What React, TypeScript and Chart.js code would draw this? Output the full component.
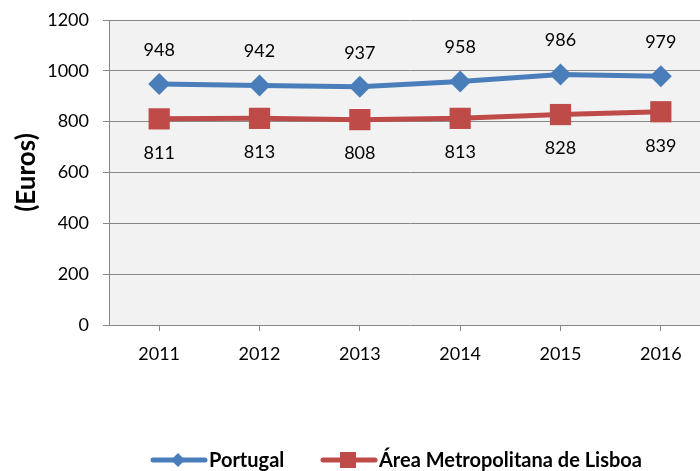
import React, { useEffect, useRef } from "react";
import { Chart, registerables } from "chart.js";

Chart.register(...registerables);

const years = ["2011", "2012", "2013", "2014", "2015", "2016"];
const portugal = [948, 942, 937, 958, 986, 979];
const lisboa = [811, 813, 808, 813, 828, 839];
const seriesNames = ["Portugal", "Área Metropolitana de Lisboa"];
const FONT = "Lato, 'Open Sans', sans-serif";

const bgPlugin = {
  id: "bg",
  beforeDraw(chart: any) {
    const { ctx, chartArea } = chart;
    ctx.save();
    ctx.fillStyle = "#f2f2f2";
    ctx.fillRect(chartArea.left, chartArea.top, chartArea.right - chartArea.left, chartArea.bottom - chartArea.top);
    ctx.restore();
  },
};

const labelPlugin = {
  id: "labels",
  afterDatasetsDraw(chart: any) {
    const { ctx } = chart;
    ctx.save();
    ctx.font = `18px ${FONT}`;
    ctx.fillStyle = "#000";
    ctx.textAlign = "center";
    ctx.textBaseline = "middle";
    chart.data.datasets.forEach((ds: any, i: number) => {
      const meta = chart.getDatasetMeta(i);
      meta.data.forEach((pt: any, j: number) => {
        const off = i === 0 ? -34 : 34;
        ctx.fillText(String(ds.data[j]), pt.x, pt.y + off);
      });
    });
    ctx.restore();
  },
};

const legendPlugin = {
  id: "customLegend",
  afterDraw(chart: any) {
    const { ctx } = chart;
    ctx.save();
    ctx.font = `bold 20px ${FONT}`;
    ctx.textBaseline = "middle";
    ctx.textAlign = "left";
    const y = 460;
    const items = [
      { x: 150, color: "#4a7ebb", style: "rectRot", r: 7 },
      { x: 320, color: "#be4b48", style: "rect", r: 8 },
    ];
    items.forEach((it, i) => {
      ctx.strokeStyle = it.color;
      ctx.lineWidth = 5;
      ctx.lineCap = "round";
      ctx.beginPath();
      ctx.moveTo(it.x + 3, y);
      ctx.lineTo(it.x + 55, y);
      ctx.stroke();
      ctx.fillStyle = it.color;
      const cx = it.x + 28;
      if (it.style === "rectRot") {
        ctx.beginPath();
        ctx.moveTo(cx, y - it.r);
        ctx.lineTo(cx + it.r, y);
        ctx.lineTo(cx, y + it.r);
        ctx.lineTo(cx - it.r, y);
        ctx.closePath();
        ctx.fill();
      } else {
        ctx.fillRect(cx - it.r, y - it.r, it.r * 2, it.r * 2);
      }
      ctx.fillStyle = "#000";
      ctx.fillText(seriesNames[i], it.x + 59, y + 1);
    });
    ctx.restore();
  },
};

export default function App() {
  const ref = useRef<HTMLCanvasElement>(null);
  useEffect(() => {
    const chart = new Chart(ref.current!, {
      type: "line",
      data: {
        labels: years,
        datasets: [
          {
            label: seriesNames[0],
            data: portugal,
            borderColor: "#4a7ebb",
            backgroundColor: "#4a7ebb",
            borderWidth: 5,
            pointStyle: "rectRot",
            pointRadius: 11,
            pointBorderWidth: 0,
            tension: 0,
          },
          {
            label: seriesNames[1],
            data: lisboa,
            borderColor: "#be4b48",
            backgroundColor: "#be4b48",
            borderWidth: 5,
            pointStyle: "rect",
            pointRadius: 15,
            pointBorderWidth: 0,
            tension: 0,
          },
        ],
      },
      options: {
        animation: false,
        responsive: false,
        maintainAspectRatio: false,
        layout: { padding: { left: 0, right: 3, top: 20, bottom: 106 } },
        plugins: { legend: { display: false }, tooltip: { enabled: false } },
        scales: {
          x: {
            offset: true,
            grid: { display: true, drawOnChartArea: false, drawTicks: true, tickLength: 6, color: "#888888" },
            border: { display: false },
            ticks: { font: { family: FONT, size: 18 }, color: "#000", padding: 12 },
            afterFit: (s: any) => {
              s.height = 40;
              s.paddingLeft = 0;
              s.paddingRight = 0;
            },
          },
          y: {
            min: 0,
            max: 1200,
            ticks: {
              stepSize: 200,
              font: { family: FONT, size: 18 },
              color: "#000",
              padding: 14,
              callback: (v: any) => String(v),
            },
            grid: { color: "#888888", lineWidth: 1, tickLength: 6 },
            border: { color: "#888888", width: 1 },
            title: {
              display: true,
              text: "(Euros)",
              font: { family: FONT, size: 26, weight: "bold" },
              color: "#000",
              padding: { top: 11, bottom: 0 },
            },
            afterFit: (s: any) => {
              s.width = 109;
              s.paddingTop = 0;
              s.paddingBottom = 0;
            },
          },
        },
      },
      plugins: [bgPlugin, labelPlugin, legendPlugin],
    });
    return () => chart.destroy();
  }, []);
  return (
    <div style={{ position: "fixed", left: 0, top: 0, width: 700, height: 471, overflow: "hidden", background: "#fff" }}>
      <canvas ref={ref} width={726} height={471} style={{ width: 726, height: 471, display: "block" }} />
    </div>
  );
}
